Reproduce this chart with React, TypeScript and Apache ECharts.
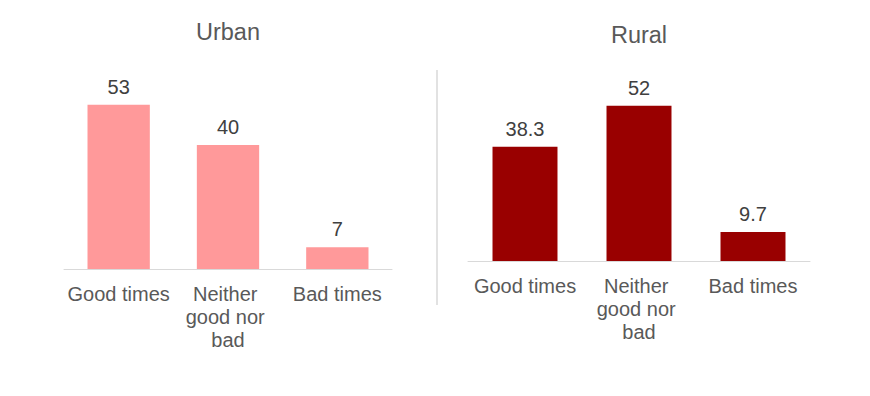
import React, { useEffect, useRef } from "react";
import * as echarts from "echarts";

const categories = ["Good times", "Neither good nor bad", "Bad times"];
const urbanValues = [53, 40, 7];
const ruralValues = [38.3, 52, 9.7];
const panelTitles = ["Urban", "Rural"];

export default function App() {
  const ref = useRef<HTMLDivElement>(null);
  useEffect(() => {
    if (!ref.current) return;
    const chart = echarts.init(ref.current, null, { renderer: "svg" });
    const font = "'Liberation Sans', Arial, sans-serif";
    const xAxisCommon = {
      type: "category" as const,
      data: categories,
      axisTick: { show: false },
      axisLine: { lineStyle: { color: "#d9d9d9", width: 1 } },
      axisLabel: {
        fontSize: 20,
        fontFamily: font,
        color: "#595959",
        margin: 13,
        width: 108,
        overflow: "break",
        lineHeight: 23,
        interval: 0,
      },
    };
    const yAxisCommon = {
      type: "value" as const,
      min: 0,
      max: 60,
      show: false,
      splitLine: { show: false },
    };
    const labelCommon = {
      show: true,
      position: "top" as const,
      distance: 8,
      fontSize: 20,
      fontFamily: font,
      color: "#404040",
    };
    chart.setOption({
      animation: false,
      backgroundColor: "#ffffff",
      grid: [
        { left: 64, width: 328, top: 83, height: 186 },
        { left: 468, width: 342, top: 82, height: 179 },
      ],
      xAxis: [
        { ...xAxisCommon, gridIndex: 0 },
        { ...xAxisCommon, gridIndex: 1 },
      ],
      yAxis: [
        { ...yAxisCommon, gridIndex: 0 },
        { ...yAxisCommon, gridIndex: 1 },
      ],
      series: [
        {
          type: "bar",
          name: panelTitles[0],
          xAxisIndex: 0,
          yAxisIndex: 0,
          data: urbanValues,
          barWidth: "57%",
          itemStyle: { color: "#ff999a" },
          label: labelCommon,
        },
        {
          type: "bar",
          name: panelTitles[1],
          xAxisIndex: 1,
          yAxisIndex: 1,
          data: ruralValues,
          barWidth: "57%",
          itemStyle: { color: "#990000" },
          label: labelCommon,
        },
      ],
      graphic: [
        {
          type: "text",
          x: 228,
          y: 19.5,
          style: {
            text: panelTitles[0],
            align: "center",
            verticalAlign: "top",
            fontSize: 23.5,
            fontFamily: font,
            fill: "#595959",
          },
        },
        {
          type: "text",
          x: 639,
          y: 23,
          style: {
            text: panelTitles[1],
            align: "center",
            verticalAlign: "top",
            fontSize: 23.5,
            fontFamily: font,
            fill: "#595959",
          },
        },
        {
          type: "line",
          shape: { x1: 437, y1: 70, x2: 437, y2: 305 },
          style: { stroke: "#d9d9d9", lineWidth: 1.5 },
        },
      ],
    });
    return () => chart.dispose();
  }, []);
  return (
    <div
      ref={ref}
      style={{ position: "fixed", left: 0, top: 0, width: 870, height: 396 }}
    />
  );
}
